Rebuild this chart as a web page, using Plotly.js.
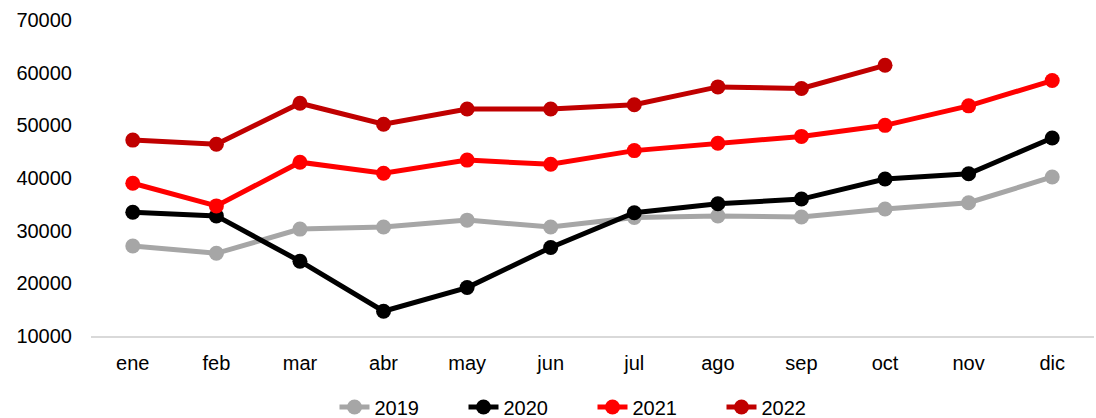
<!DOCTYPE html>
<html><head><meta charset="utf-8">
<script src="https://cdn.plot.ly/plotly-3.0.1.min.js"></script>
<style>html,body{margin:0;padding:0;background:#fff}#chart{width:1096px;height:418px}</style>
</head><body><div id="chart"></div>
<script>
const months = ["ene","feb","mar","abr","may","jun","jul","ago","sep","oct","nov","dic"];
const s2019 = [27100,25700,30300,30700,32000,30700,32500,32800,32600,34100,35300,40200];
const s2020 = [33500,32800,24200,14700,19200,26800,33400,35100,36000,39800,40800,47600];
const s2021 = [39000,34700,43000,40900,43400,42600,45200,46600,47900,50000,53700,58500];
const s2022 = [47200,46400,54200,50200,53100,53100,53900,57300,57000,61400];
const yTicks = [10000,20000,30000,40000,50000,60000,70000];
const yTickText = ["10000","20000","30000","40000","50000","60000","70000"];
const names = ["2019","2020","2021","2022"];
const colors = ["#a6a6a6","#000000","#ff0000","#c00000"];
const series = [s2019,s2020,s2021,s2022];
const traces = series.map((s,i)=>({
  x: months.slice(0,s.length), y: s, name: names[i], type:"scatter", mode:"lines+markers",
  line:{color:colors[i], width:5}, marker:{color:colors[i], size:15}
}));
const layout = {
  width:1096, height:418, margin:{l:91,r:2,t:0,b:0,autoexpand:false},
  paper_bgcolor:"#fff", plot_bgcolor:"#fff",
  font:{family:"Liberation Sans, Arial, sans-serif", size:20, color:"#000"},
  xaxis:{type:"category", range:[-0.5,11.5], showgrid:false, showline:true, linecolor:"#d9d9d9", linewidth:2, ticks:"", zeroline:false, ticklabelstandoff:8},
  yaxis:{domain:[82/418, 1-20/418], range:[10000,70000], tickvals:yTicks, ticktext:yTickText, showgrid:false, showline:false, zeroline:false, ticks:"", ticklabelstandoff:18},
  showlegend:true,
  legend:{orientation:"h", x:0.5, xanchor:"center", y:11/418, yanchor:"middle", font:{size:20}, entrywidth:84, traceorder:"normal", tracegroupgap:0}
};
Plotly.newPlot("chart", traces, layout, {displayModeBar:false, staticPlot:true});
</script></body></html>
